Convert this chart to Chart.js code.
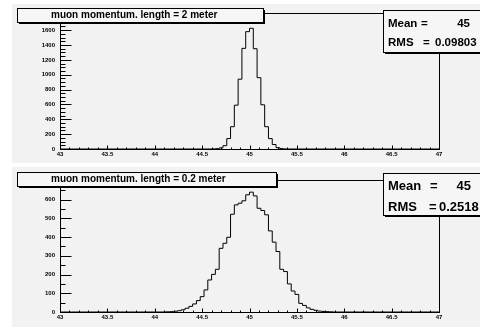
<!DOCTYPE html>
<html>
<head>
<meta charset="utf-8">
<script src="https://cdn.jsdelivr.net/npm/chart.js@4.4.1/dist/chart.umd.min.js"></script>
<style>
  html, body { margin: 0; padding: 0; background: #ffffff; }
  body { width: 480px; height: 331px; position: relative; overflow: hidden; }
  .pad { position: absolute; left: 12px; width: 468px; background: #f2f2f2; }
  .pad canvas { display: block; }
  #padTop { top: 4px; height: 159px; }
  #padBottom { top: 167px; height: 160px; }
</style>
</head>
<body>
<div class="pad" id="padTop"><canvas id="histTop" width="468" height="159"></canvas></div>
<div class="pad" id="padBottom"><canvas id="histBottom" width="468" height="160"></canvas></div>
<script>
// binning shared by both histograms: 100 bins from 43 to 47
const binStart = 43;
const binWidth = 0.04;

// entries per bin, length = 2 m
const countsTop = [
  0, 0, 0, 0, 0, 0, 0, 0, 0, 0,
  0, 0, 0, 0, 0, 0, 0, 0, 0, 0,
  0, 0, 0, 0, 0, 0, 0, 0, 0, 0,
  0, 0, 0, 0, 0, 0, 0, 0, 0, 0,
  1, 4, 15, 45, 140, 300, 590, 940, 1355, 1580,
  1625, 1350, 960, 595, 300, 140, 60, 18, 5, 1,
  0, 0, 0, 0, 0, 0, 0, 0, 0, 0,
  0, 0, 0, 0, 0, 0, 0, 0, 0, 0,
  0, 0, 0, 0, 0, 0, 0, 0, 0, 0,
  0, 0, 0, 0, 0, 0, 0, 0, 0, 0
];

// entries per bin, length = 0.2 m
const countsBottom = [
  0, 0, 0, 0, 0, 0, 0, 0, 0, 0,
  0, 0, 0, 0, 0, 0, 0, 0, 0, 0,
  0, 0, 0, 0, 0, 0, 0, 0, 1, 2,
  4, 7, 12, 20, 30, 43, 61, 82, 118, 171,
  201, 228, 340, 367, 399, 522, 572, 581, 594, 626,
  640, 620, 554, 542, 519, 433, 373, 323, 228, 216,
  150, 112, 94, 46, 35, 22, 14, 9, 5, 3,
  2, 1, 0, 0, 0, 0, 0, 0, 0, 0,
  0, 0, 0, 0, 0, 0, 0, 0, 0, 0,
  0, 0, 0, 0, 0, 0, 0, 0, 0, 0
];

const xTicks = [43, 43.5, 44, 44.5, 45, 45.5, 46, 46.5, 47];
const yTicksTop = [0, 200, 400, 600, 800, 1000, 1200, 1400, 1600];
const yTicksBottom = [0, 100, 200, 300, 400, 500, 600];

const titleTop = 'muon momentum. length = 2 meter';
const titleBottom = 'muon momentum. length = 0.2 meter';
const statsLabels = ['Mean', 'RMS'];
const statsTop = ['45', '0.09803'];
const statsBottom = ['45', '0.2518'];

const FONT = '"Liberation Sans", Arial, Helvetica, sans-serif';

// step outline: one point per bin low edge, plus the upper edge of the last bin
const histPoints = (counts) => {
  const pts = counts.map((c, i) => ({ x: binStart + i * binWidth, y: c }));
  pts.push({ x: binStart + counts.length * binWidth, y: 0 });
  return pts;
};

const drawPave = (ctx, b, fill) => {
  ctx.fillStyle = fill;
  ctx.fillRect(b.x, b.y, b.w, b.h);
  ctx.strokeStyle = '#000';
  ctx.lineWidth = 1;
  ctx.strokeRect(b.x + 0.5, b.y + 0.5, b.w, b.h);
  // shadow on right and bottom
  ctx.fillStyle = '#000';
  ctx.fillRect(b.x + b.w + 1, b.y + 2, 1, b.h);
  ctx.fillRect(b.x + 2, b.y + b.h + 1, b.w, 1);
};

// ROOT-like frame: inward ticks, title pave, stats pave
const rootFrame = {
  id: 'rootFrame',
  afterDraw(chart, args, o) {
    const { ctx, chartArea: a } = chart;
    const xs = chart.scales.x, ys = chart.scales.y;
    const L = Math.round(a.left) + 0.5, R = Math.round(a.right) + 0.5;
    const T = Math.round(a.top) + 0.5, B = Math.round(a.bottom) + 0.5;
    ctx.save();
    ctx.strokeStyle = '#000';
    ctx.lineWidth = 1;
    ctx.strokeRect(L, T, R - L, B - T);

    ctx.beginPath();
    for (let k = 0; ; k++) {
      const v = xs.min + k * o.xMinor;
      if (v > xs.max + 1e-9) break;
      const px = Math.round(xs.getPixelForValue(v)) + 0.5;
      const len = (k % o.xSub === 0) ? 4 : 2;
      ctx.moveTo(px, B); ctx.lineTo(px, B - len);
    }
    for (let k = 0; ; k++) {
      const v = k * o.yMinor;
      if (v > ys.max) break;
      const py = Math.round(ys.getPixelForValue(v)) + 0.5;
      const len = (k % o.ySub === 0) ? 11 : 5;
      ctx.moveTo(L, py); ctx.lineTo(L + len, py);
    }
    ctx.stroke();

    // title
    drawPave(ctx, o.title.box, '#f6f6f6');
    ctx.fillStyle = '#000';
    ctx.font = 'bold 10px ' + FONT;
    ctx.textBaseline = 'middle';
    ctx.textAlign = 'left';
    ctx.fillText(o.title.text, o.title.x, o.title.y);

    // stats
    const s = o.stats;
    drawPave(ctx, s.box, '#f6f6f6');
    ctx.fillStyle = '#000';
    ctx.font = 'bold ' + s.size + 'px ' + FONT;
    statsLabels.forEach((lab, i) => {
      ctx.textAlign = 'left';
      ctx.fillText(lab, s.labelX, s.rowY[i]);
      ctx.fillText('=', s.eqX[i], s.rowY[i]);
      if (s.valueAlign[i] === 'right') {
        ctx.textAlign = 'right';
        ctx.fillText(s.values[i], s.valueX[i], s.rowY[i]);
      } else {
        ctx.fillText(s.values[i], s.valueX[i], s.rowY[i]);
      }
    });
    ctx.restore();
  }
};

const makeHist = (id, counts, cfg) => new Chart(document.getElementById(id), {
  type: 'line',
  data: {
    datasets: [{
      data: histPoints(counts),
      stepped: true,
      borderColor: '#000',
      borderWidth: 1,
      pointRadius: 0,
      fill: false
    }]
  },
  options: {
    responsive: false,
    animation: false,
    devicePixelRatio: 1,
    events: [],
    layout: { padding: { top: cfg.padTop, right: 41, left: 0, bottom: 0 } },
    scales: {
      x: {
        type: 'linear',
        min: binStart,
        max: binStart + counts.length * binWidth,
        afterBuildTicks: (s) => { s.ticks = xTicks.map(v => ({ value: v })); },
        afterFit: (s) => { s.height = cfg.xHeight; },
        grid: { display: false, drawTicks: false },
        border: { display: false },
        ticks: {
          padding: 2,
          maxRotation: 0,
          autoSkip: false,
          color: '#000',
          font: { family: FONT, size: 6, weight: 'bold' },
          callback: (v) => String(v)
        }
      },
      y: {
        type: 'linear',
        min: 0,
        max: cfg.yMax,
        afterBuildTicks: (s) => { s.ticks = cfg.yTicks.map(v => ({ value: v })); },
        afterFit: (s) => { s.width = 48; },
        grid: { display: false, drawTicks: false },
        border: { display: false },
        ticks: {
          padding: 5,
          autoSkip: false,
          color: '#000',
          font: { family: FONT, size: 6, weight: 'bold' },
          callback: (v) => String(v)
        }
      }
    },
    plugins: {
      legend: { display: false },
      tooltip: { enabled: false },
      rootFrame: cfg.frame
    }
  },
  plugins: [rootFrame]
});

makeHist('histTop', countsTop, {
  padTop: 9,
  xHeight: 14,
  yMax: 1831,
  yTicks: yTicksTop,
  frame: {
    xMinor: 0.1, xSub: 5, yMinor: 50, ySub: 4,
    title: { text: titleTop, box: { x: 5, y: 4, w: 246, h: 14 }, x: 39, y: 11.5 },
    stats: {
      box: { x: 371, y: 6, w: 110, h: 42 }, size: 11.5,
      labelX: 376, rowY: [20, 38.5],
      eqX: [409, 411], valueX: [458, 423], valueAlign: ['right', 'left'],
      values: statsTop
    }
  }
});

makeHist('histBottom', countsBottom, {
  padTop: 13,
  xHeight: 15,
  yMax: 705,
  yTicks: yTicksBottom,
  frame: {
    xMinor: 0.1, xSub: 5, yMinor: 50, ySub: 2,
    title: { text: titleBottom, box: { x: 5, y: 5, w: 259, h: 14 }, x: 39, y: 12.5 },
    stats: {
      box: { x: 371, y: 6, w: 110, h: 42 }, size: 13,
      labelX: 376, rowY: [19.7, 40.5],
      eqX: [418, 417], valueX: [459, 427], valueAlign: ['right', 'left'],
      values: statsBottom
    }
  }
});
</script>
</body>
</html>
